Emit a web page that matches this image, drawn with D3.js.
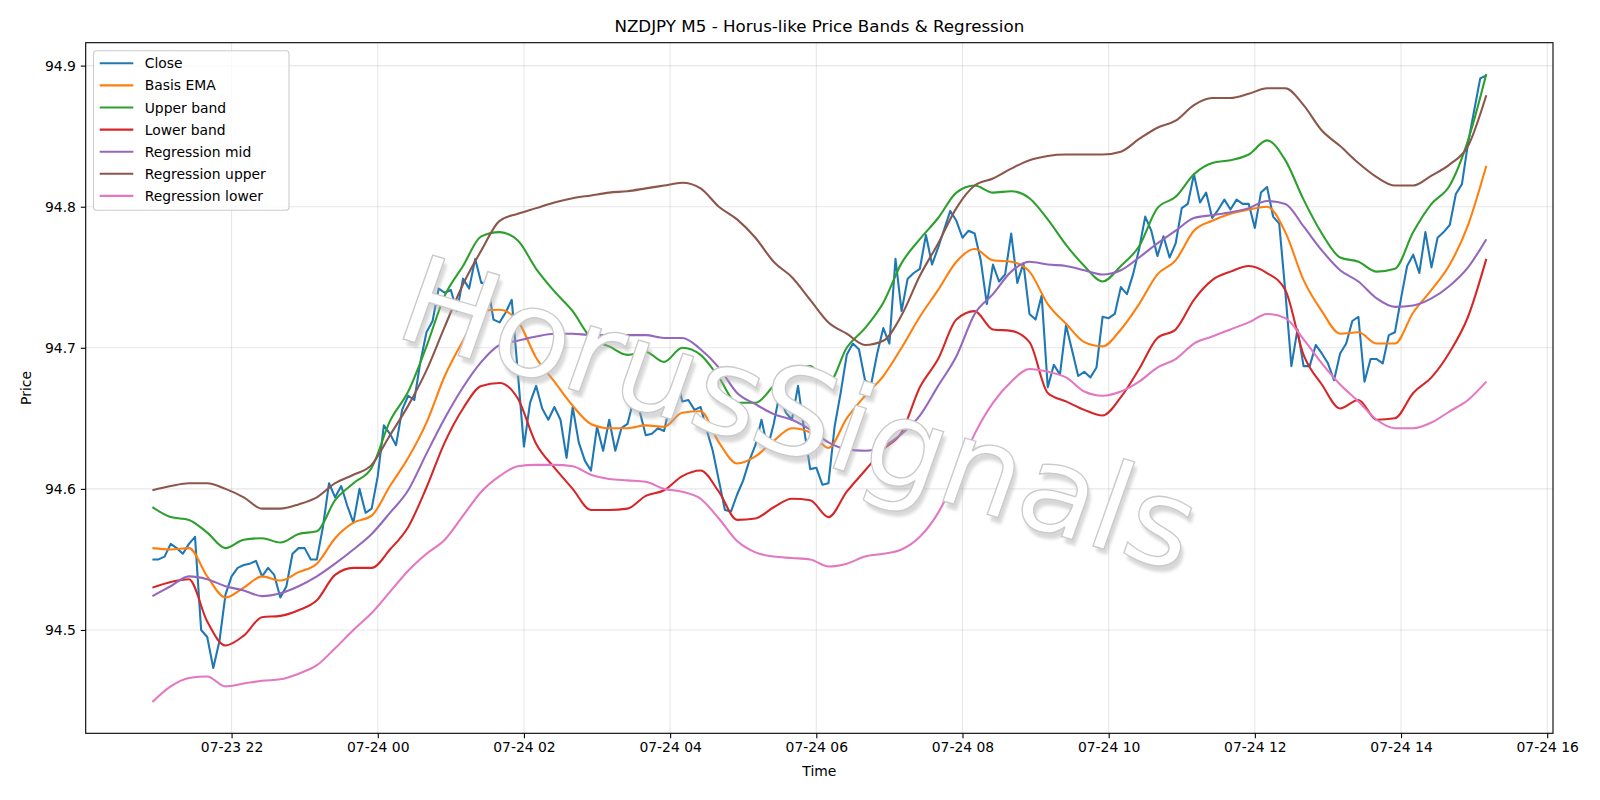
<!DOCTYPE html>
<html>
<head>
<meta charset="utf-8">
<script src="https://cdn.jsdelivr.net/npm/d3@7/dist/d3.min.js"></script>
<style>
body { margin: 0; background: #fff; }
svg text { font-family: "DejaVu Sans", sans-serif; }
</style>
</head>
<body>
<script>
///////////////////////////
// data
var startTime = "2025-07-23 20:55";   // first M5 bar
var closeStep = 5;                      // minutes between close values
var bandStep = 15;                      // minutes between band samples

var closeValues = [
94.550,94.550,94.552,94.561,94.558,94.554,94.561,94.566,94.500,94.495,94.473,94.492,94.525,94.538,94.544,94.546,94.547,94.549,94.538,94.544,94.539,94.523,94.531,94.554,94.558,94.558,94.550,94.550,94.573,94.604,94.594,94.602,94.588,94.576,94.600,94.583,94.586,
94.609,94.645,94.639,94.631,94.656,94.666,94.663,94.690,94.711,94.719,94.742,94.739,94.741,94.726,94.749,94.742,94.763,94.746,94.746,94.720,94.718,94.725,94.734,94.682,94.630,94.661,94.673,94.657,94.649,94.658,94.649,94.622,94.658,94.633,94.620,94.613,94.644,94.627,
94.649,94.627,94.643,94.646,94.663,94.655,94.638,94.639,94.643,94.641,94.660,94.680,94.662,94.663,94.656,94.658,94.642,94.627,94.606,94.585,94.584,94.596,94.606,94.620,94.631,94.649,94.629,94.646,94.668,94.654,94.649,94.673,94.642,94.614,94.615,94.603,94.604,94.644,94.668,
94.695,94.703,94.699,94.677,94.674,94.696,94.714,94.703,94.763,94.726,94.749,94.753,94.756,94.780,94.759,94.771,94.784,94.797,94.790,94.778,94.783,94.781,94.762,94.731,94.759,94.747,94.752,94.781,94.746,94.760,94.724,94.720,94.737,94.672,94.688,94.681,
94.716,94.698,94.680,94.683,94.679,94.686,94.722,94.721,94.724,94.743,94.738,94.752,94.770,94.793,94.783,94.765,94.779,94.764,94.774,94.799,94.802,94.823,94.803,94.810,94.792,94.798,94.805,94.798,94.805,94.802,94.802,94.785,94.810,94.814,94.793,94.788,94.740,94.687,
94.713,94.687,94.687,94.702,94.696,94.689,94.677,94.696,94.703,94.719,94.722,94.676,94.692,94.692,94.689,94.709,94.711,94.735,94.758,94.766,94.753,94.782,94.757,94.778,94.782,94.787,94.809,94.816,94.845,94.868,94.891,94.893
];

var basisEma = [
94.558,94.557,94.558,94.538,94.523,94.530,94.538,94.535,94.541,94.547,94.565,94.576,94.581,
94.602,94.622,94.647,94.680,94.705,94.726,94.727,94.719,94.693,94.676,94.659,94.646,94.643,
94.643,94.645,94.644,94.654,94.655,94.633,94.618,94.623,94.634,94.643,94.640,94.629,
94.650,94.666,94.680,94.700,94.722,94.741,94.761,94.770,94.762,94.761,94.754,94.731,94.717,
94.704,94.701,94.713,94.731,94.752,94.762,94.783,94.790,94.795,94.798,94.800,94.782,
94.748,94.726,94.710,94.711,94.703,94.703,94.725,94.741,94.759,94.787,94.829
];

var upperBand = [
94.587,94.580,94.578,94.569,94.558,94.564,94.565,94.562,94.568,94.570,94.592,94.604,94.615,
94.648,94.669,94.701,94.737,94.758,94.779,94.782,94.776,94.756,94.740,94.726,94.707,94.701,
94.695,94.697,94.690,94.700,94.695,94.679,94.661,94.661,94.673,94.685,94.687,94.675,
94.700,94.714,94.732,94.760,94.777,94.792,94.810,94.815,94.810,94.811,94.806,94.791,94.773,
94.758,94.747,94.758,94.772,94.799,94.807,94.823,94.831,94.833,94.837,94.847,94.833,
94.805,94.781,94.764,94.761,94.754,94.756,94.782,94.802,94.815,94.847,94.894
];

var lowerBand = [
94.530,94.534,94.536,94.506,94.489,94.496,94.509,94.510,94.514,94.521,94.539,94.544,94.544,
94.557,94.573,94.601,94.633,94.657,94.673,94.675,94.664,94.632,94.615,94.600,94.585,94.585,
94.586,94.595,94.599,94.609,94.613,94.598,94.578,94.579,94.587,94.593,94.592,94.580,
94.598,94.613,94.628,94.640,94.672,94.692,94.720,94.726,94.713,94.712,94.704,94.668,94.662,
94.656,94.652,94.665,94.685,94.707,94.713,94.734,94.748,94.754,94.758,94.753,94.741,
94.695,94.674,94.657,94.663,94.649,94.650,94.668,94.679,94.697,94.722,94.763
];

var regMid = [
94.524,94.531,94.538,94.536,94.531,94.528,94.524,94.526,94.531,94.538,94.547,94.557,94.568,
94.583,94.599,94.625,94.650,94.672,94.690,94.702,94.705,94.708,94.710,94.710,94.709,94.709,
94.709,94.709,94.707,94.707,94.699,94.686,94.668,94.660,94.653,94.649,94.642,94.633,
94.628,94.627,94.630,94.639,94.652,94.673,94.694,94.724,94.738,94.754,94.761,94.759,94.758,
94.755,94.752,94.755,94.764,94.774,94.783,94.792,94.794,94.796,94.799,94.804,94.802,
94.786,94.769,94.755,94.747,94.735,94.729,94.730,94.735,94.744,94.757,94.777
];

var regUpper = [
94.599,94.602,94.604,94.604,94.600,94.594,94.586,94.586,94.589,94.594,94.604,94.610,94.617,
94.638,94.659,94.684,94.715,94.745,94.769,94.790,94.795,94.799,94.803,94.806,94.808,94.810,
94.811,94.813,94.815,94.817,94.813,94.800,94.791,94.778,94.761,94.750,94.734,94.718,
94.710,94.702,94.705,94.723,94.751,94.774,94.799,94.815,94.820,94.827,94.833,94.836,94.837,
94.837,94.837,94.839,94.848,94.856,94.861,94.872,94.877,94.877,94.880,94.884,94.884,
94.872,94.854,94.843,94.831,94.821,94.815,94.815,94.822,94.830,94.843,94.879
];

var regLower = [
94.449,94.460,94.466,94.467,94.460,94.462,94.464,94.465,94.469,94.475,94.487,94.500,94.512,
94.527,94.542,94.554,94.564,94.581,94.598,94.609,94.616,94.617,94.617,94.616,94.610,94.607,
94.606,94.605,94.600,94.598,94.593,94.579,94.563,94.555,94.552,94.551,94.550,94.545,
94.547,94.552,94.554,94.557,94.566,94.583,94.609,94.639,94.661,94.676,94.685,94.683,94.679,
94.669,94.666,94.669,94.676,94.686,94.692,94.703,94.708,94.713,94.718,94.724,94.721,
94.706,94.689,94.674,94.662,94.649,94.643,94.643,94.647,94.655,94.663,94.676
];

var seriesNames = ["Close","Basis EMA","Upper band","Lower band","Regression mid","Regression upper","Regression lower"];
var seriesColors = ["#1f77b4","#ff7f0e","#2ca02c","#d62728","#9467bd","#8c564b","#e377c2"];
var titleText = "NZDJPY M5 - Horus-like Price Bands & Regression";
var watermarkText = "HorusSignals";

///////////////////////////
// plot parameter
var svg = d3.select("body")
	.append("svg")
	.attr("width", 1600)
	.attr("height", 800);
var margin = {top: 42.7, right: 47, bottom: 66.7, left: 85.7};
var width = 1600 - margin.left - margin.right;
var height = 800 - margin.top - margin.bottom;
var g = svg.append("g").attr("transform", "translate(" + margin.left + "," + margin.top + ")");

var t0 = d3.timeParse("%Y-%m-%d %H:%M")(startTime);
var closeData = closeValues.map(function(v, i) {
	return {t: d3.timeMinute.offset(t0, i * closeStep), v: v};
});
function bandData(arr) {
	return arr.map(function(v, i) {
		return {t: d3.timeMinute.offset(t0, i * bandStep), v: v};
	});
}
var allSeries = [closeData, bandData(basisEma), bandData(upperBand), bandData(lowerBand),
	bandData(regMid), bandData(regUpper), bandData(regLower)];

// scales with 5% margins like matplotlib
var tFirst = closeData[0].t, tLast = closeData[closeData.length - 1].t;
var tPad = (tLast - tFirst) * 0.05;
var x = d3.scaleTime()
	.domain([new Date(+tFirst - tPad), new Date(+tLast + tPad)])
	.range([0, width]);
var yExt = d3.extent([].concat(closeValues, basisEma, upperBand, lowerBand, regMid, regUpper, regLower));
var yPad = (yExt[1] - yExt[0]) * 0.05;
var y = d3.scaleLinear()
	.domain([yExt[0] - yPad, yExt[1] + yPad])
	.range([height, 0]);

var xTicks = x.ticks(d3.timeHour.every(2));
var yTicks = y.ticks(5);

// grid
g.append("g").selectAll("line").data(xTicks).enter().append("line")
	.attr("x1", function(d) { return x(d); }).attr("x2", function(d) { return x(d); })
	.attr("y1", 0).attr("y2", height)
	.attr("stroke", "#b0b0b0").attr("stroke-opacity", 0.3).attr("stroke-width", 1.1);
g.append("g").selectAll("line").data(yTicks).enter().append("line")
	.attr("x1", 0).attr("x2", width)
	.attr("y1", function(d) { return y(d); }).attr("y2", function(d) { return y(d); })
	.attr("stroke", "#b0b0b0").attr("stroke-opacity", 0.3).attr("stroke-width", 1.1);

// watermark: hollow slanted text with a soft drop shadow
var defs = svg.append("defs");
defs.append("filter").attr("id", "wmblur")
	.append("feGaussianBlur").attr("stdDeviation", 1.5);
var wm = svg.append("g")
	.attr("transform", "translate(400,338) matrix(1,0.30,-0.14,1,0,0)");
function wmText(sel) {
	return sel.append("text")
		.attr("font-size", 122)
		.attr("font-style", "italic")
		.attr("textLength", 785)
		.attr("lengthAdjust", "spacingAndGlyphs")
		.text(watermarkText);
}
wmText(wm).attr("x", 3.5).attr("y", 4.5)
	.attr("fill", "#a8a8a8").attr("opacity", 0.45)
	.attr("filter", "url(#wmblur)");
wmText(wm).attr("x", 0).attr("y", 0)
	.attr("fill", "#ffffff")
	.attr("stroke", "#cacaca")
	.attr("stroke-width", 1.3);

// lines
var lineFunction = d3.line()
	.x(function(d) { return x(d.t); })
	.y(function(d) { return y(d.v); });
allSeries.forEach(function(data, i) {
	g.append("path")
		.datum(data)
		.attr("fill", "none")
		.attr("stroke", seriesColors[i])
		.attr("stroke-width", 2.08)
		.attr("stroke-linejoin", "round")
		.attr("d", lineFunction.curve(i == 0 ? d3.curveLinear : d3.curveMonotoneX));
});

// axes
var xAxis = g.append("g")
	.attr("transform", "translate(0," + height + ")")
	.call(d3.axisBottom(x).tickValues(xTicks).tickFormat(d3.timeFormat("%m-%d %H"))
		.tickSize(4.9).tickPadding(4.2).tickSizeOuter(0));
var yAxis = g.append("g")
	.call(d3.axisLeft(y).tickValues(yTicks).tickFormat(d3.format(".1f"))
		.tickSize(4.9).tickPadding(4.9).tickSizeOuter(0));
[xAxis, yAxis].forEach(function(ax) {
	ax.select(".domain").remove();
	ax.selectAll(".tick line").attr("stroke", "#000").attr("stroke-width", 1.1);
	ax.selectAll(".tick text").attr("fill", "#000").attr("font-size", 13.9)
		.attr("font-family", "DejaVu Sans");
});

// frame
g.append("rect")
	.attr("width", width).attr("height", height)
	.attr("fill", "none").attr("stroke", "#000").attr("stroke-width", 1.1);

// title and labels
svg.append("text")
	.attr("x", margin.left + width / 2).attr("y", 31.5)
	.attr("text-anchor", "middle").attr("font-size", 16.7).attr("fill", "#000")
	.text(titleText);
svg.append("text")
	.attr("x", margin.left + width / 2).attr("y", 775.5)
	.attr("text-anchor", "middle").attr("font-size", 13.9).attr("fill", "#000")
	.text("Time");
svg.append("text")
	.attr("transform", "translate(30.5," + (margin.top + height / 2) + ") rotate(-90)")
	.attr("text-anchor", "middle").attr("font-size", 13.9).attr("fill", "#000")
	.text("Price");

// legend
var legend = svg.append("g").attr("transform", "translate(93.5,50.7)");
legend.append("rect")
	.attr("width", 195.5).attr("height", 159.5).attr("rx", 3)
	.attr("fill", "#fff").attr("fill-opacity", 0.8)
	.attr("stroke", "#cccccc").attr("stroke-width", 1.1);
seriesNames.forEach(function(name, i) {
	var row = legend.append("g").attr("transform", "translate(0," + (12.6 + i * 22.1) + ")");
	row.append("line")
		.attr("x1", 6.2).attr("x2", 39.8)
		.attr("stroke", seriesColors[i]).attr("stroke-width", 2.08);
	row.append("text")
		.attr("x", 51.2).attr("y", 5)
		.attr("font-size", 13.9).attr("fill", "#000")
		.text(name);
});
</script>
</body>
</html>
